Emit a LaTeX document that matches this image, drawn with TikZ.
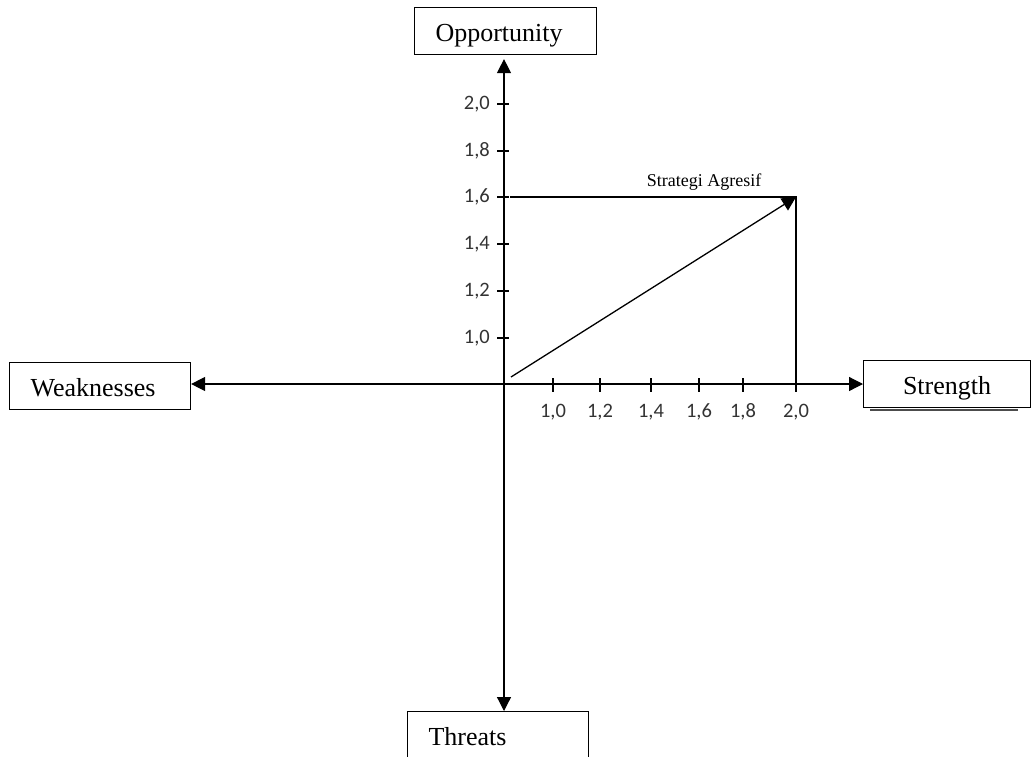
\documentclass[tikz,border=0pt]{standalone}
\usepackage{fontspec}
\setmainfont{Liberation Serif}
\newfontfamily\tickfont{Carlito}
\usepackage{tikz}
\usetikzlibrary{arrows.meta,calc,positioning}

\begin{document}
\begin{tikzpicture}[x=1pt,y=-1pt,
  bx/.style={draw,line width=1.1pt,align=left,inner xsep=21pt,inner ysep=8pt,text height=26pt,text depth=5pt,
    font=\fontsize{26}{30}\selectfont},
  ax/.style={-{Triangle[length=14pt,width=14pt]},line width=1.2pt},
  tk/.style={line width=1.1pt},
  tl/.style={font=\tickfont\fontsize{20.5}{24}\selectfont,inner sep=0pt,text=black!80}]
\useasboundingbox (0,0) rectangle (1032,756);
\coordinate (o) at (504,384);
\node[bx,text width=140pt,anchor=north west] (opp) at (414,7) {Opportunity};
\node[bx,text width=139pt,anchor=north west] (weak) at (9,362) {Weaknesses};
\node[bx,text width=125pt,align=center,anchor=north west] (str) at (863,360) {Strength};
\node[bx,text width=139pt,text depth=60pt,anchor=north west] (thr) at (407,711) {Threats};
\draw[black!70,line width=2pt] ([xshift=7pt,yshift=-2pt]str.south west) -- ([xshift=-13pt,yshift=-2pt]str.south east);
% axes
\draw[ax,shorten >=4pt] (o) -- (o |- opp.south);
\draw[ax] (o) -- (o |- thr.north);
\draw[ax] (o) -- (o -| weak.east);
\draw[ax] (o) -- (o -| str.west);
% ticks
\foreach \x/\l in {553/{1,0},600/{1,2},651/{1,4},699/{1,6},743/{1,8},796/{2,0}}{
  \draw[tk] (\x,378) -- (\x,392);
  \node[tl] (xl\x) at (\x,412) {\l};
}
\foreach \y/\l in {104/{2,0},151/{1,8},197/{1,6},244/{1,4},291/{1,2},338/{1,0}}{
  \draw[tk] (497,\y) -- (509,\y);
  \node[tl,anchor=east] (yl\y) at (490,\y) {\l};
}
% strategy
\coordinate (peak) at (796,197);
\coordinate (start) at (511,377);
\draw[tk] (510,197) -- (peak) -- (peak |- o);
\draw[ax,line width=1.3pt] (start) -- (peak);
\node[font=\fontsize{18}{21}\selectfont] (lbl) at (704,182) {Strategi Agresif};
\end{tikzpicture}
\end{document}
